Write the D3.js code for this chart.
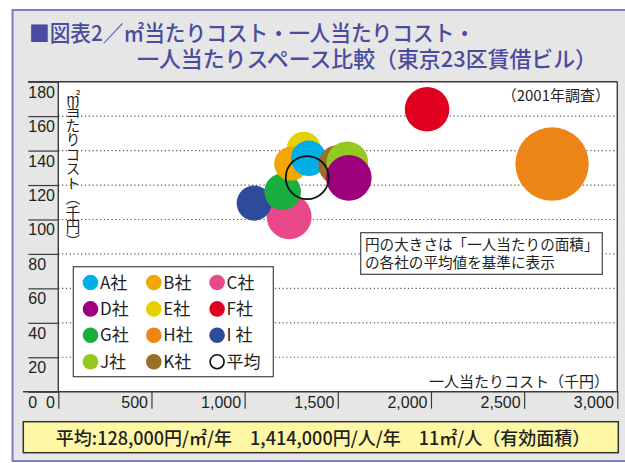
<!DOCTYPE html>
<html>
<head>
<meta charset="utf-8">
<script src="https://cdn.jsdelivr.net/npm/d3@7"></script>
<style>
  body { margin: 0; background: #ffffff; }
  svg { display: block; }
</style>
</head>
<body>
<div id="chart"></div>
<script>
// values
var companies = ['A社', 'B社', 'C社', 'D社', 'E社', 'F社', 'G社', 'H社', 'I 社', 'J社', 'K社']
var costPerPerson = [1344, 1250, 1239, 1559, 1317, 1979, 1204, 2650, 1051, 1551, 1503]   // 千円 (x)
var costPerSqm = [135.5, 132.4, 101.6, 124.2, 141.1, 164.0, 116.1, 132.2, 109.5, 133.2, 131.6]   // 千円 (y)
var spacePerPerson = [7.5, 6.9, 12.0, 12.4, 6.9, 11.8, 8.0, 32.0, 7.3, 10.3, 9.5]   // ㎡
var companyColors = ['#00afe6', '#f2a700', '#e9498a', '#9c007a', '#e6d000', '#e0001f', '#19ae3e', '#ec8516', '#2d4a9b', '#94c91f', '#9b6e2a']

var averageLabel = '平均'
var averageCost = 1336
var averageSqm = 124.3
var averageSpace = 11

// stacking order of the bubbles (index into companies)
var drawOrder = [2, 8, 6, 4, 1, 0, 10, 9, 3, 5, 7]

var xTicks = [0, 500, 1000, 1500, 2000, 2500, 3000]
var yTicks = [0, 20, 40, 60, 80, 100, 120, 140, 160, 180]
var gridTicks = [20, 40, 60, 80, 100, 120, 140, 160]

var titleLines = ['■図表2／㎡当たりコスト・一人当たりコスト・', '一人当たりスペース比較（東京23区賃借ビル）']
var noteLines = ['円の大きさは「一人当たりの面積」', 'の各社の平均値を基準に表示']
var yearLabel = '（2001年調査）'
var xTitle = '一人当たりコスト（千円）'
var yTitle = '㎡当たりコスト（千円）'
var footerText = '平均:128,000円/㎡/年\u30001,414,000円/人/年\u300011㎡/人（有効面積）'

var jpFont = '"Noto Sans CJK JP", "Noto Sans", sans-serif'
var numFont = '"Liberation Sans Narrow", "Liberation Sans", sans-serif'
var ink = '#231f20'

var width = 625
var height = 463
var plotLeft = 58.3
var plotRight = 617.3
var plotTop = 81.7
var plotBottom = 391.7

var svg = d3.select('#chart').append('svg')
    .attr('width', width)
    .attr('height', height)

// outer frame
svg.append('rect')
    .attr('x', 12.5)
    .attr('y', 10)
    .attr('width', 640)
    .attr('height', 451)
    .attr('fill', '#e6e6e6')
    .attr('stroke', '#7f7fc0')
    .attr('stroke-width', 2)

// title
var title = svg.append('text')
    .attr('font-family', jpFont)
    .attr('font-size', 22)
    .attr('font-weight', 500)
    .attr('fill', '#4b4b9f')
title.append('tspan').attr('x', 29).attr('y', 41)
    .attr('textLength', 446).attr('lengthAdjust', 'spacingAndGlyphs')
    .text(titleLines[0])
title.append('tspan').attr('x', 137).attr('y', 67)
    .attr('textLength', 460).attr('lengthAdjust', 'spacingAndGlyphs')
    .text(titleLines[1])

var x = d3.scaleLinear().domain([0, 3000]).range([plotLeft, plotRight])
var y = d3.scaleLinear().domain([0, 180]).range([plotBottom, plotTop])
var r = d3.scaleSqrt().domain([0, averageSpace]).range([0, 21.5])

// plot area
svg.append('rect')
    .attr('x', plotLeft)
    .attr('y', plotTop)
    .attr('width', plotRight - plotLeft)
    .attr('height', plotBottom - plotTop)
    .attr('fill', '#ffffff')

// dotted grid
svg.selectAll('line.grid')
    .data(gridTicks)
    .enter()
    .append('line')
    .attr('class', 'grid')
    .attr('x1', plotLeft)
    .attr('x2', plotRight)
    .attr('y1', function(d){ return y(d) })
    .attr('y2', function(d){ return y(d) })
    .attr('stroke', '#555555')
    .attr('stroke-width', 1.2)
    .attr('stroke-dasharray', '1.2,2.6')

// y axis: long ticks left of the plot, labels under them
var yAxis = svg.append('g')
    .attr('transform', 'translate(' + plotLeft + ',0)')
    .call(d3.axisLeft(y).tickValues(yTicks).tickSize(30).tickFormat(d3.format('d')))
yAxis.select('.domain').remove()
yAxis.selectAll('line').attr('stroke', '#3a3a3a').attr('stroke-width', 1.2)
yAxis.selectAll('text')
    .attr('x', -30)
    .attr('dy', 15.5)
    .attr('text-anchor', 'start')
    .attr('font-family', numFont)
    .attr('font-size', 16)
    .attr('fill', ink)

// x axis: ticks below the line, labels left of them
var xAxis = svg.append('g')
    .attr('transform', 'translate(0,' + plotBottom + ')')
    .call(d3.axisBottom(x).tickValues(xTicks).tickSize(17).tickFormat(d3.format(',')))
xAxis.select('.domain').remove()
xAxis.selectAll('line').attr('stroke', '#3a3a3a').attr('stroke-width', 1.2)
xAxis.selectAll('text')
    .attr('x', -4)
    .attr('y', 0)
    .attr('dy', 16.5)
    .attr('text-anchor', 'end')
    .attr('font-family', numFont)
    .attr('font-size', 16)
    .attr('fill', ink)

// frame lines of the plot
svg.append('line')
    .attr('x1', 23).attr('x2', plotRight + 1)
    .attr('y1', plotBottom).attr('y2', plotBottom)
    .attr('stroke', '#3a3a3a').attr('stroke-width', 1.4)
svg.append('line')
    .attr('x1', plotLeft).attr('x2', plotLeft)
    .attr('y1', plotTop).attr('y2', plotBottom)
    .attr('stroke', '#3a3a3a').attr('stroke-width', 1.4)
svg.append('line')
    .attr('x1', plotRight).attr('x2', plotRight)
    .attr('y1', plotTop).attr('y2', plotBottom)
    .attr('stroke', '#3a3a3a').attr('stroke-width', 1.4)
svg.append('line')
    .attr('x1', 28).attr('x2', plotRight)
    .attr('y1', plotTop).attr('y2', plotTop)
    .attr('stroke', '#3a3a3a').attr('stroke-width', 1.4)

// axis titles and year note
svg.append('text')
    .attr('x', 73)
    .attr('y', 89)
    .attr('font-family', jpFont)
    .attr('font-size', 14.5)
    .attr('fill', ink)
    .style('writing-mode', 'vertical-rl')
    .text(yTitle)

svg.append('text')
    .attr('x', 609)
    .attr('y', 387)
    .attr('text-anchor', 'end')
    .attr('font-family', jpFont)
    .attr('font-size', 15)
    .attr('fill', ink)
    .text(xTitle)

svg.append('text')
    .attr('x', 610)
    .attr('y', 101)
    .attr('text-anchor', 'end')
    .attr('font-family', jpFont)
    .attr('font-size', 15)
    .attr('fill', ink)
    .text(yearLabel)

// bubbles
svg.selectAll('circle.company')
    .data(drawOrder)
    .enter()
    .append('circle')
    .attr('class', 'company')
    .attr('cx', function(i){ return x(costPerPerson[i]) })
    .attr('cy', function(i){ return y(costPerSqm[i]) })
    .attr('r', function(i){ return r(spacePerPerson[i]) })
    .attr('fill', function(i){ return companyColors[i] })

svg.append('circle')
    .attr('cx', x(averageCost))
    .attr('cy', y(averageSqm))
    .attr('r', r(averageSpace))
    .attr('fill', 'none')
    .attr('stroke', '#111111')
    .attr('stroke-width', 1.8)

// size note box
svg.append('rect')
    .attr('x', 360.7)
    .attr('y', 232.7)
    .attr('width', 241.6)
    .attr('height', 41.6)
    .attr('fill', '#ffffff')
    .attr('stroke', '#444444')
    .attr('stroke-width', 1.2)
svg.selectAll('text.note')
    .data(noteLines)
    .enter()
    .append('text')
    .attr('class', 'note')
    .attr('x', 365)
    .attr('y', function(d, i){ return 250 + i * 18 })
    .attr('font-family', jpFont)
    .attr('font-size', 14.6)
    .attr('fill', ink)
    .text(function(d){ return d })

// legend
var legendItems = companies.map(function(name, i){
    return {name: name, color: companyColors[i], open: false}
})
legendItems.push({name: averageLabel, color: 'none', open: true})

svg.append('rect')
    .attr('x', 73.3)
    .attr('y', 266.7)
    .attr('width', 200)
    .attr('height', 110)
    .attr('fill', '#ffffff')
    .attr('stroke', '#444444')
    .attr('stroke-width', 1.2)

var legend = svg.selectAll('g.legend')
    .data(legendItems)
    .enter()
    .append('g')
    .attr('class', 'legend')
    .attr('transform', function(d, i){
        var col = i % 3
        var row = Math.floor(i / 3)
        return 'translate(' + (90.5 + col * 63.3) + ',' + (282.5 + row * 26.4) + ')'
    })
legend.append('circle')
    .attr('r', function(d){ return d.open ? 7 : 7.8 })
    .attr('fill', function(d){ return d.color })
    .attr('stroke', function(d){ return d.open ? '#111111' : 'none' })
    .attr('stroke-width', 1.6)
legend.append('text')
    .attr('x', 9.5)
    .attr('y', 6)
    .attr('font-family', jpFont)
    .attr('font-size', 17)
    .attr('fill', ink)
    .text(function(d){ return d.name })

// footer with the averages
svg.append('rect')
    .attr('x', 23.3)
    .attr('y', 421.7)
    .attr('width', 595)
    .attr('height', 31)
    .attr('fill', '#fdf7a6')
    .attr('stroke', '#333333')
    .attr('stroke-width', 1.5)
svg.append('text')
    .attr('x', 323)
    .attr('y', 444.5)
    .attr('text-anchor', 'middle')
    .attr('font-family', jpFont)
    .attr('font-size', 18)
    .attr('font-weight', 500)
    .attr('fill', ink)
    .text(footerText)
</script>
</body>
</html>
